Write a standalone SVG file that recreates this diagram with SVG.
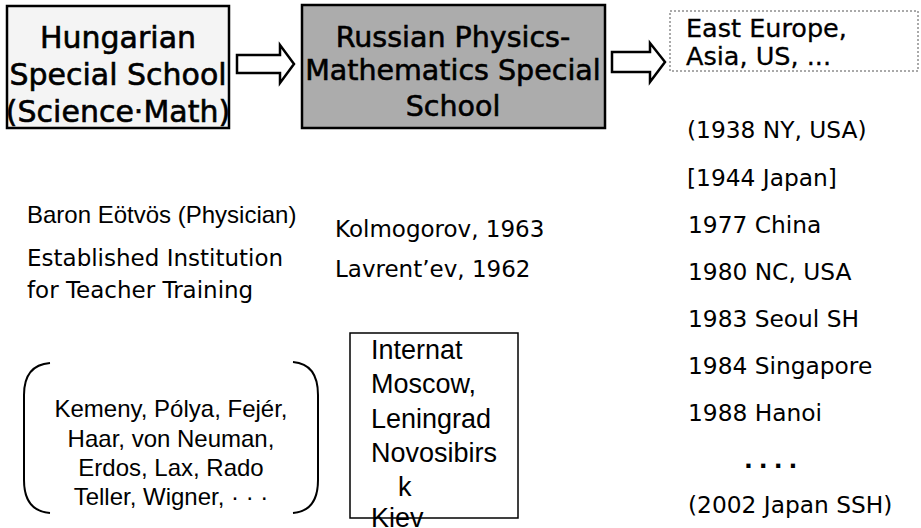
<svg xmlns="http://www.w3.org/2000/svg" width="921" height="528" viewBox="0 0 921 528">
<style>
.bg{fill:#fff}
.box{stroke:#000;stroke-width:2.5}
.ta{font-family:"DejaVu Sans",Verdana,sans-serif;fill:#000}
.ar{font-family:"Liberation Sans",Arial,sans-serif;fill:#000}
.heavy{stroke:#000;stroke-width:0.6}
.arrow{fill:#fff;stroke:#000;stroke-width:2.5;stroke-linejoin:miter}
.brk{fill:none;stroke:#000;stroke-width:2}
</style>
<rect class="bg" width="921" height="528"/>
<g id="hungarian">
<rect class="box" x="7" y="6" width="222" height="122" fill="#f4f4f4"/>
<g class="ta heavy" font-size="30" text-anchor="middle">
<text x="118" y="48">Hungarian</text>
<text x="118" y="85">Special School</text>
<text x="118" y="122">(Science·Math)</text>
</g>
</g>
<g id="russian">
<rect class="box" x="302" y="5" width="303" height="123" fill="#acacac"/>
<g class="ta heavy" font-size="28.5" text-anchor="middle">
<text x="453" y="47">Russian Physics-</text>
<text x="453" y="80">Mathematics Special</text>
<text x="453" y="116">School</text>
</g>
</g>
<g id="worldwide">
<rect x="670" y="11" width="248" height="60" fill="none" stroke="#555" stroke-width="1" stroke-dasharray="2,2"/>
<g class="ta" font-size="25.5" stroke="#000" stroke-width="0.3">
<text x="686" y="37">East Europe,</text>
<text x="686" y="65">Asia, US, ...</text>
</g>
</g>
<g id="connectors">
<polygon class="arrow" points="237,55 280,55 280,45 294,64 280,83 280,73 237,73"/>
<polygon class="arrow" points="612,52 650,52 650,43 665,62 650,82 650,72 612,72"/>
</g>
<g id="eotvos">
<text class="ar" x="27" y="223" font-size="24">Baron Eötvös (Physician)</text>
<g class="ta" font-size="23">
<text x="27" y="266">Established Institution</text>
<text x="27" y="298">for Teacher Training</text>
</g>
</g>
<g id="founders" class="ta" font-size="23">
<text x="335" y="237">Kolmogorov, 1963</text>
<text x="335" y="277">Lavrent’ev, 1962</text>
</g>
<g id="mathematicians">
<path class="brk" d="M50,363 Q24,365 24,395 L24,480 Q24,511 50,513"/>
<path class="brk" d="M293,362 Q318,364 318,395 L318,480 Q318,511 293,513"/>
<g class="ar" font-size="24" text-anchor="middle">
<text x="171" y="417">Kemeny, Pólya, Fejér,</text>
<text x="171" y="447">Haar, von Neuman,</text>
<text x="171" y="476">Erdos, Lax, Rado</text>
<text x="171" y="505">Teller, Wigner, · · ·</text>
</g>
</g>
<g id="internat">
<g class="ar" font-size="27">
<text x="371" y="359">Internat</text>
<text x="371" y="393">Moscow,</text>
<text x="371" y="428">Leningrad</text>
<text x="371" y="462">Novosibirs</text>
<text x="398" y="496">k</text>
<text x="371" y="527">Kiev</text>
</g>
<rect x="350" y="333" width="168" height="185" fill="none" stroke="#000" stroke-width="1.5"/>
</g>
<g id="timeline" class="ta" font-size="23.3">
<text x="687" y="138">(1938 NY, USA)</text>
<text x="687" y="186">[1944 Japan]</text>
<text x="688" y="233">1977 China</text>
<text x="688" y="280">1980 NC, USA</text>
<text x="688" y="327">1983 Seoul SH</text>
<text x="688" y="374">1984 Singapore</text>
<text x="688" y="421">1988 Hanoi</text>
<text x="744" y="468" font-weight="bold" letter-spacing="6">....</text>
<text x="688" y="513">(2002 Japan SSH)</text>
</g>
</svg>
